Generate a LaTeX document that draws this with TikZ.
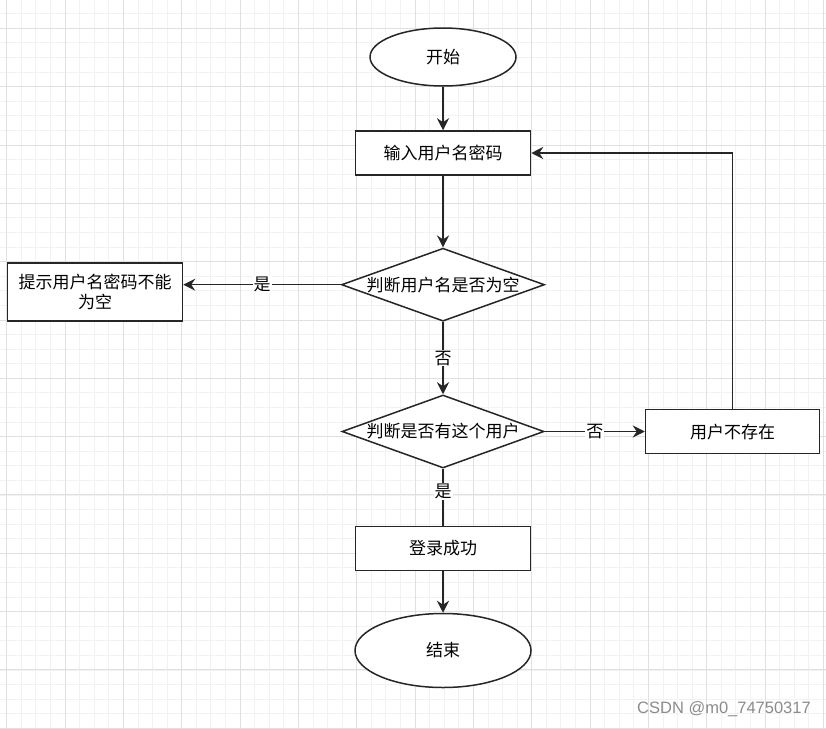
\documentclass[tikz,border=0pt]{standalone}
\usepackage{fontspec}
\newfontfamily\cjk{Noto Sans CJK SC}
\newfontfamily\wmfont{Liberation Sans}
\usetikzlibrary{shapes.geometric,arrows.meta}
\definecolor{gridminor}{HTML}{F2F2F2}
\definecolor{gridmajor}{HTML}{E0E0E0}
\definecolor{ink}{HTML}{262626}
\definecolor{wmgray}{HTML}{8C8C8C}
\tikzset{
  base/.style={draw=ink, line width=1.5pt, fill=white, font=\cjk\fontsize{17}{20}\selectfont, text=black, inner sep=0pt},
  term/.style={base, ellipse},
  proc/.style={base, rectangle},
  decide/.style={base, diamond},
  conn/.style={draw=ink, line width=1.5pt, -{Stealth[length=12pt,width=12pt,inset=4pt]}},
  plainline/.style={draw=ink, line width=1.5pt},
  lbl/.style={fill=white, font=\cjk\fontsize{17}{20}\selectfont, text=black, inner sep=1pt},
  gminor/.style={draw=gridminor, line width=0.8pt},
  gmajor/.style={draw=gridmajor, line width=0.9pt},
}
\begin{document}
\begin{tikzpicture}[x=1pt,y=-1pt]
\useasboundingbox (0,0) rectangle (826,728);
\fill[white] (0,0) rectangle (826,728);
% grid
\foreach \i in {-1,...,56} \draw[gminor] ({6.7+\i*14.583},0) -- ({6.7+\i*14.583},728);
\foreach \i in {-2,...,48} \draw[gminor] (0,{28.3+\i*14.583}) -- (826,{28.3+\i*14.583});
\foreach \i in {0,...,14} \draw[gmajor] ({6.7+\i*58.33},0) -- ({6.7+\i*58.33},728);
\foreach \i in {0,...,12} \draw[gmajor] (0,{28.3+\i*58.33}) -- (826,{28.3+\i*58.33});

% nodes
\node[term, minimum width=146, minimum height=58] (start) at (443,57) {开始};
\node[proc, minimum width=175, minimum height=44] (input) at (443,153) {输入用户名密码};
\node[decide, minimum width=203, minimum height=73] (d1) at (443,284.7) {\makebox[0pt]{判断用户名是否为空}};
\node[proc, minimum width=175, minimum height=58, align=center] (tip) at (95,292) {提示用户名密码不能\\为空};
\node[decide, minimum width=202, minimum height=73] (d2) at (443,431.5) {\makebox[0pt]{判断是否有这个用户}};
\node[proc, minimum width=174, minimum height=44] (nouser) at (732.5,431.6) {用户不存在};
\node[proc, minimum width=175, minimum height=44] (ok) at (443,548.5) {登录成功};
\node[term, minimum width=176, minimum height=74] (end) at (443,650.5) {结束};

% connectors
\draw[conn] (start) -- (input);
\draw[conn] (input) -- (d1);
\draw[conn] (d1.west) -- node[lbl]{是} (d1.west -| tip.east);
\draw[conn] (d1) -- node[lbl]{否} (d2);
\draw[conn] (d2.east) -- node[lbl]{否} (d2.east -| nouser.west);
\draw[plainline] (d2) -- node[lbl, pos=0.4]{是} (ok);
\draw[conn] (ok) -- (end);
\draw[conn] (nouser) |- (input);

% watermark
\node[font=\wmfont\fontsize{16.5}{19}\selectfont, text=wmgray, anchor=east, inner sep=0pt] (wm) at (811,709) {CSDN @m0\_74750317};
\end{tikzpicture}
\end{document}
